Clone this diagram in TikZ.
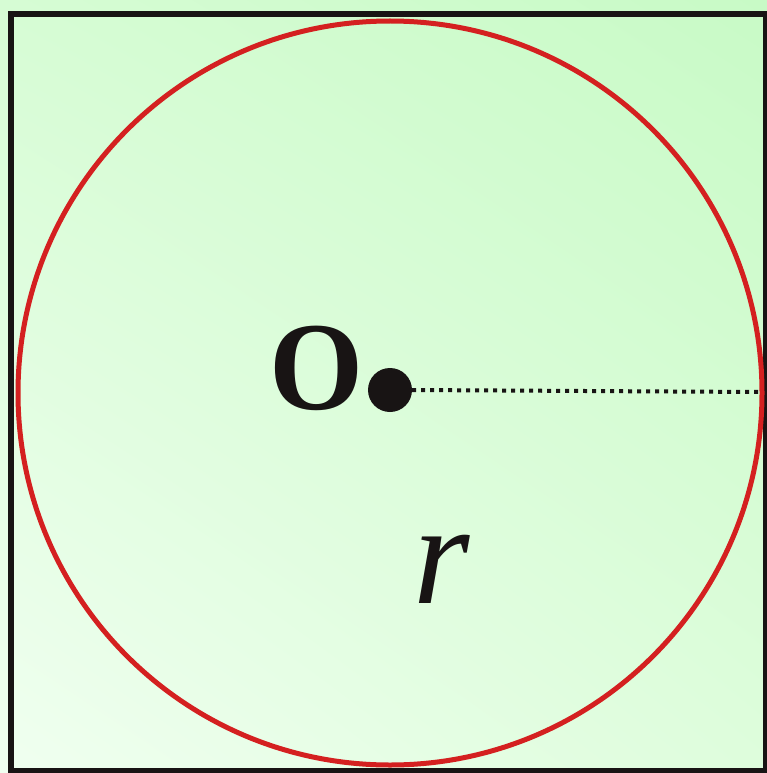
\documentclass[tikz,border=0pt]{standalone}
\usepackage{fontspec}
\setmainfont{Liberation Serif}
\usetikzlibrary{shadings}
\definecolor{gLL}{RGB}{240,255,240}
\definecolor{gUL}{RGB}{214,252,212}
\definecolor{gLR}{RGB}{222,253,220}
\definecolor{gUR}{RGB}{200,250,198}
\definecolor{circRed}{RGB}{212,32,32}
\definecolor{ink}{RGB}{24,20,20}
\tikzset{
  frame/.style={draw=ink,line width=6pt},
  rim/.style={draw=circRed,line width=5pt},
  centre/.style={circle,fill=ink,inner sep=0pt,minimum size=44pt},
  radius line/.style={draw=ink,line width=4pt,dash pattern=on 4pt off 5pt},
  label/.style={text=ink,inner sep=0pt}
}
\begin{document}
\begin{tikzpicture}[x=1pt,y=-1pt]
\useasboundingbox (0,0) rectangle (767,773);
\shade[lower left=gLL,upper right=gUR,lower right=gLR,upper left=gUL] (0,0) rectangle (767,773);
\draw[frame] (11,14) rectangle (766,771);
\coordinate (C) at (390,393);
\draw[rim] (C) circle[radius=372];
\node[centre] (dot) at (390,390) {};
\coordinate (edge) at (759,392);
\draw[radius line] (dot.east) -- (edge);
\node[label,font=\fontsize{126}{126}\selectfont\bfseries,xscale=0.96] (O) at (317,368) {O};
\node[label,font=\fontsize{145}{145}\selectfont\itshape] (r) at (442,569) {r};
\end{tikzpicture}
\end{document}
